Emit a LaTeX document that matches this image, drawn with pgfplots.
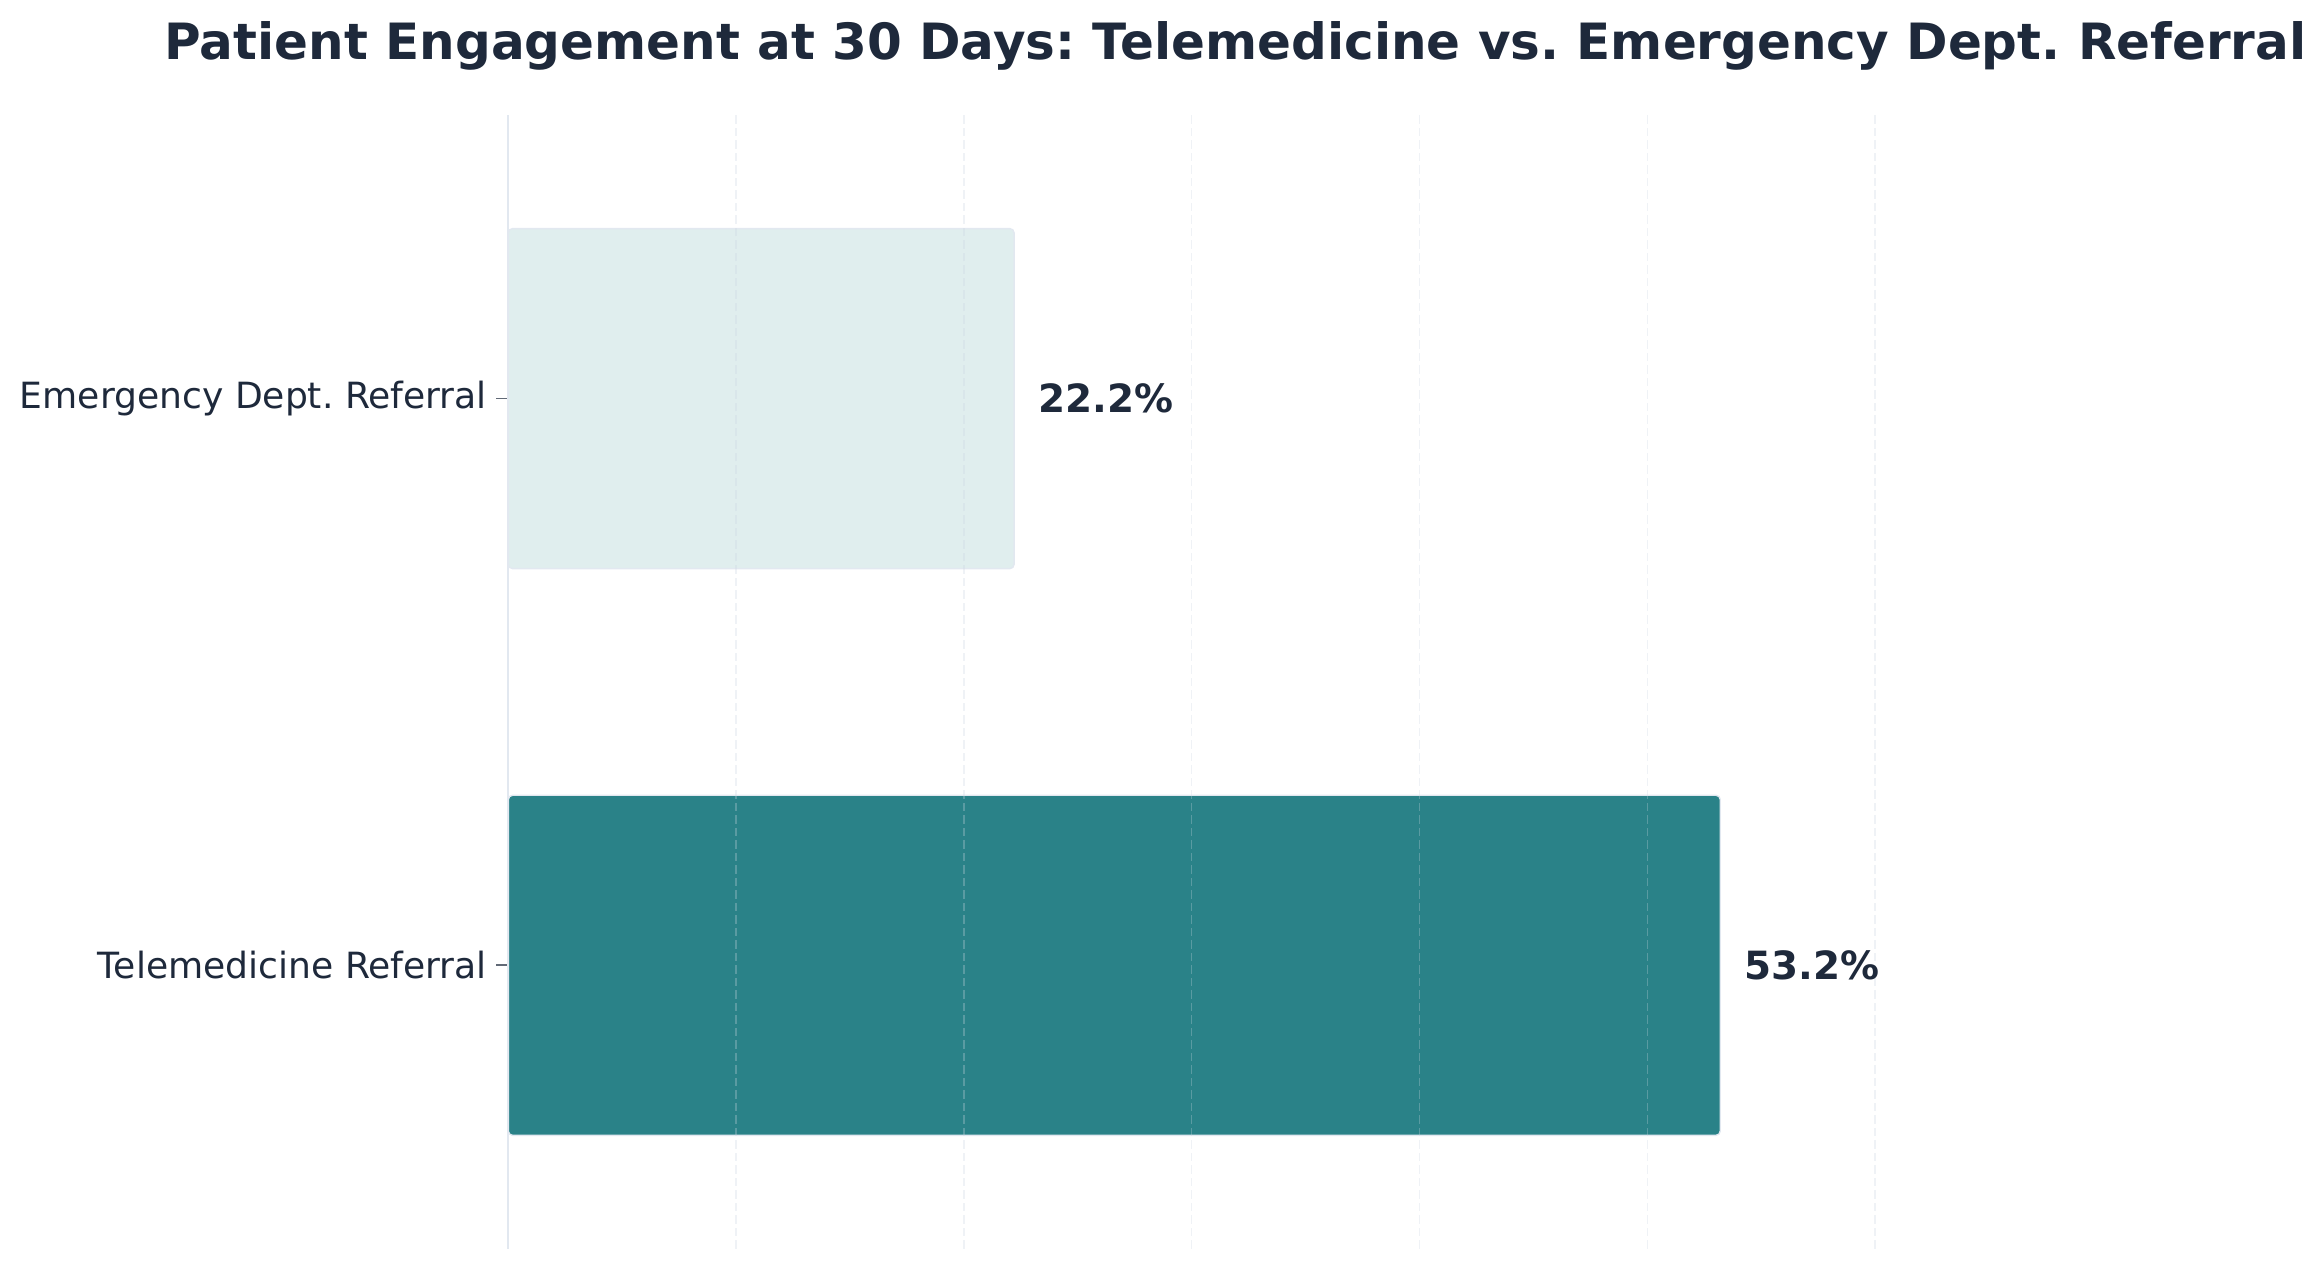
\documentclass[border=0pt]{standalone}
\usepackage{fontspec}
\setmainfont{DejaVu Sans}
\usepackage{pgfplots}
\pgfplotsset{compat=1.18}
\frenchspacing

\definecolor{ink}{HTML}{1E293B}
\definecolor{teal}{HTML}{2A8288}
\definecolor{pale}{HTML}{E0EEEE}
\definecolor{spine}{HTML}{E2E8F0}
\definecolor{gridc}{HTML}{CBD5E1}

\begin{document}
\begin{tikzpicture}
\begin{axis}[
    at={(0,0)}, anchor=south west,
    scale only axis,
    width=523.5pt, height=408pt,
    xbar, bar width=0.6, bar shift=0pt,
    xmin=0, xmax=63.84,
    ymin=-0.5, ymax=1.5,
    axis lines=left,
    axis line style={-},
    x axis line style={draw=none},
    y axis line style={draw=spine, line width=0.8pt},
    xtick={10,20,...,60}, xticklabels={},
    major x tick style={draw=none},
    xmajorgrids,
    grid style={gridc, dash pattern=on 3pt off 1.5pt, line width=0.5pt, opacity=0.3},
    axis on top,
    ytick={0,1},
    yticklabels={Telemedicine Referral, Emergency Dept. Referral},
    tick align=outside,
    major y tick style={draw=ink!70, line width=0.6pt},
    major tick length=4.3pt,
    yticklabel style={font=\fontsize{13}{15}\selectfont, text=ink, inner sep=0pt, xshift=-3.2pt},
    point meta=explicit symbolic,
    nodes near coords,
    every node near coord/.style={font=\bfseries\fontsize{14}{16}\selectfont, text=ink, anchor=west, inner sep=0pt, xshift=8.6pt},
]
    % telemedicine
    \addplot[fill=teal, draw=spine, line width=0.5pt, rounded corners=1.5pt] coordinates {
        (53.2,0) [53.2\%]
    };
    % emergency dept
    \addplot[fill=pale, draw=spine, line width=0.5pt, rounded corners=1.5pt] coordinates {
        (22.2,1) [22.2\%]
    };
\end{axis}
\node[anchor=base, text=ink, font=\bfseries\fontsize{18}{21}\selectfont] at (261.75pt,427.9pt)
    {Patient Engagement at 30 Days: Telemedicine vs. Emergency Dept. Referral};
\pgfresetboundingbox
\path[use as bounding box] (-183pt,-7pt) rectangle (653.6pt,449.5pt);
\end{tikzpicture}
\end{document}
